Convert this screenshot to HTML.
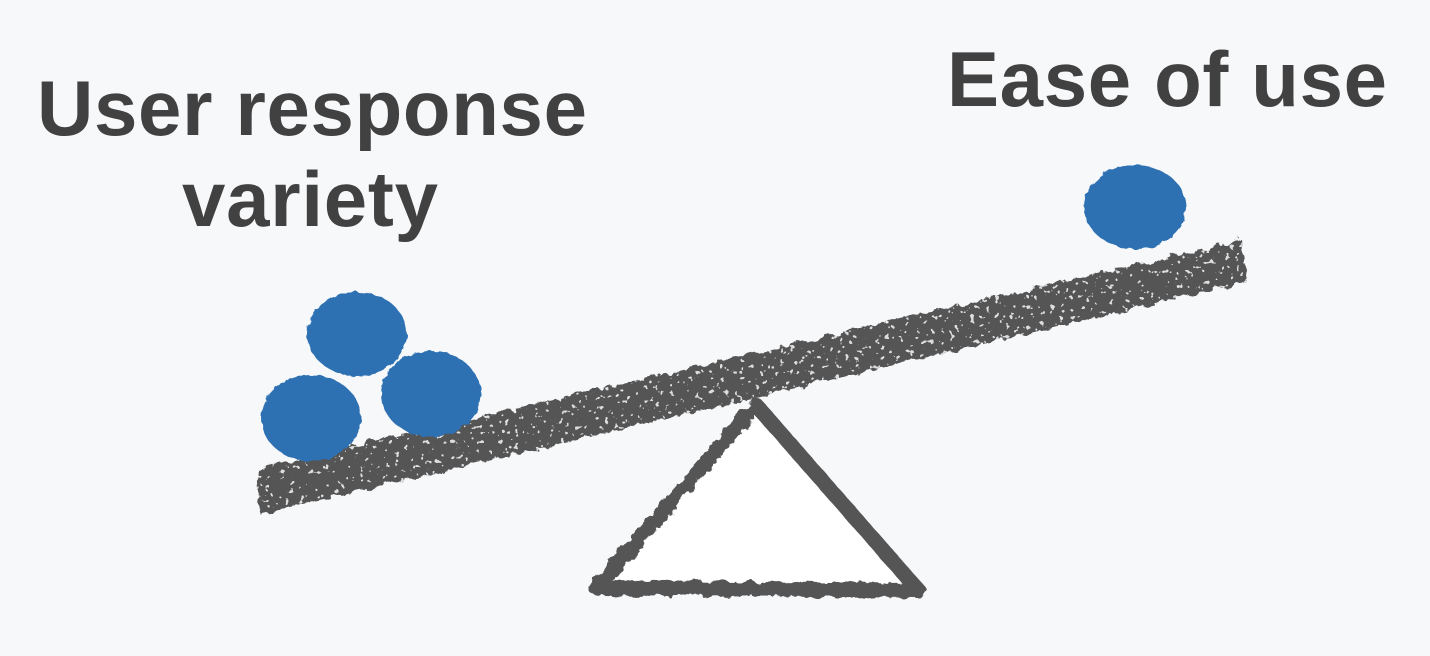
<!DOCTYPE html>
<html><head><meta charset="utf-8"><style>
html,body{margin:0;padding:0;background:#f7f8fa;}
svg{display:block}
</style></head><body>
<svg width="1430" height="656" viewBox="0 0 1430 656">
<defs>
<filter id="rough" x="-10%" y="-10%" width="120%" height="120%">
<feTurbulence type="fractalNoise" baseFrequency="0.09" numOctaves="3" seed="3" result="n"/>
<feDisplacementMap in="SourceGraphic" in2="n" scale="9"/>
</filter>
<filter id="roughBeam" x="-10%" y="-10%" width="120%" height="120%">
<feTurbulence type="fractalNoise" baseFrequency="0.09" numOctaves="3" seed="3" result="n"/>
<feDisplacementMap in="SourceGraphic" in2="n" scale="9" result="d"/>
<feTurbulence type="fractalNoise" baseFrequency="0.2" numOctaves="2" seed="11" result="s"/>
<feColorMatrix in="s" type="matrix" values="0 0 0 0 0.72  0 0 0 0 0.72  0 0 0 0 0.72  0 0 0 25 -16.5" result="spk"/>
<feComposite in="spk" in2="d" operator="in" result="spkIn"/>
<feMerge><feMergeNode in="d"/><feMergeNode in="spkIn"/></feMerge>
</filter>
<filter id="roughSoft" x="-10%" y="-10%" width="120%" height="120%">
<feTurbulence type="fractalNoise" baseFrequency="0.12" numOctaves="2" seed="7" result="n"/>
<feDisplacementMap in="SourceGraphic" in2="n" scale="5"/>
</filter>
</defs>
<rect width="1430" height="656" fill="#f7f8fa"/>
<text x="312" y="135" text-anchor="middle" font-family="Liberation Sans, sans-serif" font-weight="bold" font-size="78" fill="#414141" textLength="550">User response</text>
<text x="310" y="226" text-anchor="middle" font-family="Liberation Sans, sans-serif" font-weight="bold" font-size="78" fill="#414141" textLength="256">variety</text>
<text x="1167" y="106" text-anchor="middle" font-family="Liberation Sans, sans-serif" font-weight="bold" font-size="78" fill="#414141" textLength="440">Ease of use</text>
<g filter="url(#rough)">
<polygon points="756,405 596,588 918,590" fill="#ffffff" stroke="#555" stroke-width="15" stroke-linejoin="round"/>
</g>
<g filter="url(#roughBeam)">
<polygon points="257,468 1242,240 1247,282 260,514" fill="#555555"/>
</g>
<g filter="url(#roughSoft)" fill="#2f71b3">
<ellipse cx="357" cy="334" rx="50" ry="42"/>
<ellipse cx="311" cy="418" rx="50" ry="43"/>
<ellipse cx="431" cy="394" rx="50" ry="43"/>
<ellipse cx="1135" cy="207" rx="51" ry="42"/>
</g>
</svg>
</body></html>
